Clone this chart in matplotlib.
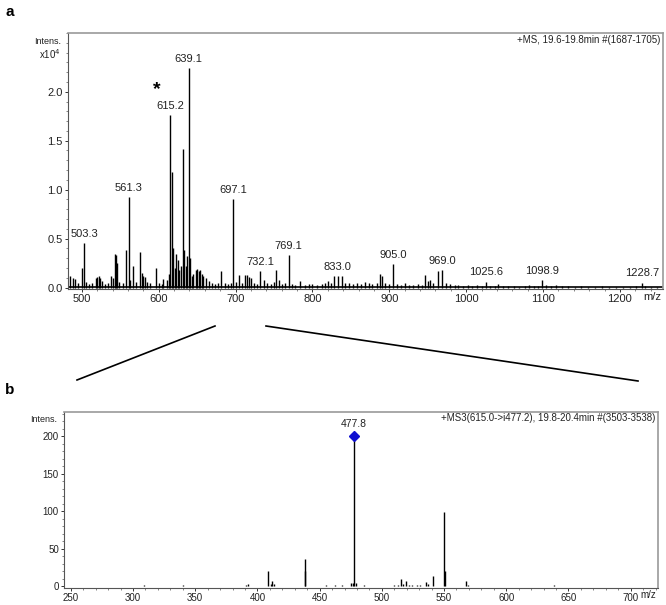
import numpy as np
import matplotlib
matplotlib.use("Agg")
import matplotlib.pyplot as plt
from matplotlib.ticker import MultipleLocator
from matplotlib.lines import Line2D

plt.rcParams['font.family'] = ['Liberation Sans', 'DejaVu Sans']

# ---- panel a: full MS, intensities in x10^4 ----
a_label_mz = [503.3, 561.3, 615.2, 639.1, 697.1, 732.1, 769.1, 833.0, 905.0, 969.0, 1025.6, 1098.9, 1228.7]
a_label_int = [0.45, 0.92, 1.76, 2.24, 0.90, 0.17, 0.33, 0.12, 0.24, 0.18, 0.06, 0.08, 0.05]
a_label_txt = ["503.3", "561.3", "615.2", "639.1", "697.1", "732.1", "769.1", "833.0",
               "905.0", "969.0", "1025.6", "1098.9", "1228.7"]
a_minor = [(485, 0.12), (488, 0.10), (491, 0.09), (495, 0.05), (500, 0.20), (505, 0.06),
           (509, 0.04), (513, 0.05), (518, 0.10), (520, 0.11), (522, 0.12), (524, 0.10),
           (526, 0.07), (530, 0.04), (534, 0.05), (538, 0.12), (541, 0.10), (543, 0.34),
           (544.5, 0.33), (546, 0.25), (549, 0.06), (553, 0.05), (558, 0.38), (563, 0.08),
           (567, 0.22), (571, 0.06), (575.5, 0.36), (578, 0.15), (580, 0.12), (582, 0.11),
           (585, 0.06), (589, 0.05), (596, 0.20), (601, 0.05), (604, 0.04), (606, 0.09),
           (611, 0.08), (613, 0.14), (617, 1.18), (619, 0.40), (621, 0.20), (623, 0.34),
           (625, 0.28), (627, 0.18), (629, 0.22), (631.1, 1.42), (633, 0.38), (635, 0.22),
           (637, 0.32), (641, 0.30), (643, 0.12), (645, 0.14), (648, 0.18), (650, 0.19),
           (652, 0.17), (654, 0.18), (656, 0.14), (658, 0.12), (661, 0.10), (665, 0.07),
           (669, 0.05), (673, 0.04), (677, 0.05), (681, 0.17), (686, 0.05), (690, 0.04),
           (694, 0.05), (700, 0.06), (704, 0.13), (708, 0.05), (712, 0.13), (714.5, 0.13),
           (718, 0.11), (720, 0.10), (724, 0.05), (728, 0.04), (737, 0.08), (741, 0.05),
           (746, 0.04), (750, 0.06), (753, 0.18), (756, 0.08), (760, 0.04), (764, 0.05),
           (773, 0.04), (778, 0.03), (784, 0.07), (790, 0.03), (795, 0.04), (800, 0.04),
           (806, 0.03), (812, 0.04), (817, 0.05), (820, 0.07), (824, 0.05), (828, 0.12),
           (838, 0.12), (843, 0.05), (848, 0.05), (853, 0.04), (858, 0.05), (863, 0.04),
           (868, 0.06), (873, 0.05), (878, 0.04), (884, 0.05), (888, 0.14), (890, 0.12),
           (895, 0.05), (900, 0.04), (910, 0.04), (915, 0.03), (920, 0.05), (926, 0.03),
           (931, 0.03), (937, 0.04), (942, 0.03), (946, 0.13), (950, 0.07), (953, 0.08),
           (957, 0.05), (963, 0.17), (974, 0.05), (979, 0.04), (985, 0.03), (990, 0.03),
           (996, 0.02), (1002, 0.03), (1008, 0.02), (1014, 0.03), (1020, 0.02), (1031, 0.02),
           (1037, 0.02), (1041, 0.04), (1048, 0.02), (1055, 0.02), (1062, 0.02), (1069, 0.01),
           (1076, 0.02), (1082, 0.03), (1088, 0.02), (1094, 0.02), (1104, 0.03), (1110, 0.02),
           (1117, 0.03), (1125, 0.02), (1133, 0.02), (1141, 0.01), (1150, 0.02), (1159, 0.01),
           (1168, 0.01), (1177, 0.02), (1186, 0.01), (1195, 0.01), (1204, 0.01), (1213, 0.01),
           (1221, 0.02), (1233, 0.02), (1240, 0.01), (1248, 0.01)]
a_xticks = [500, 600, 700, 800, 900, 1000, 1100, 1200]
a_yticks = [0.0, 0.5, 1.0, 1.5, 2.0]
a_title = "+MS, 19.6-19.8min #(1687-1705)"

# ---- panel b: MS3 of 615 -> 477 ----
b_prec_mz = 477.8
b_prec_int = 200
b_minor = [(309, 1.5), (340, 2.5), (383, 0.8), (386, 0.8), (391, 2), (392.5, 3),
           (408.8, 20), (410.5, 3), (411.8, 7), (413, 3), (437.9, 37), (438.5, 20),
           (449, 1), (455, 1.5), (462, 2), (468, 1.5), (475.5, 4), (476.8, 5), (479, 4),
           (486, 2), (492, 1), (497, 0.8), (507, 1), (510, 1.5), (513, 2), (515.5, 10),
           (517, 3), (519.5, 7), (522, 2), (524, 1.5), (528, 1.5), (531, 2), (535.5, 6),
           (537, 3), (540.8, 14), (549.9, 99), (551, 20), (559, 1), (567.8, 7), (569, 2),
           (586, 1), (600, 1), (618, 1), (625, 0.8), (638.5, 2.5), (640, 1), (660, 0.8),
           (675, 0.8)]
b_xticks = [250, 300, 350, 400, 450, 500, 550, 600, 650, 700]
b_yticks = [0, 50, 100, 150, 200]
b_title = "+MS3(615.0->i477.2), 19.8-20.4min #(3503-3538)"


def style_axes(ax, size):
    for s in ['top', 'right']:
        ax.spines[s].set_color('#9a9a9a')
        ax.spines[s].set_linewidth(1.2)
    for s in ['left', 'bottom']:
        ax.spines[s].set_color('#555555')
        ax.spines[s].set_linewidth(0.8)
    ax.tick_params(which='major', direction='out', length=2.5, width=0.7,
                   labelsize=size, colors='#333333', labelcolor='#222222', pad=1.2)
    ax.tick_params(which='minor', direction='out', length=1.3, width=0.5, colors='#555555')


fig = plt.figure(figsize=(6.66, 6.05), dpi=100)

# panel a
ax1 = fig.add_axes([0.102, 0.5223, 0.8934, 0.4232])
mz = [p[0] for p in a_minor] + a_label_mz
it = [p[1] for p in a_minor] + a_label_int
ax1.vlines(mz, 0, it, color='black', linewidth=1.0)
ax1.axhline(0.008, color='black', linewidth=1.2)
for m, h, t in zip(a_label_mz, a_label_int, a_label_txt):
    ax1.annotate(t, (m, h), xytext=(0, 3), textcoords='offset points',
                 ha='center', va='bottom', fontsize=8, color='#222222')
ax1.set_xlim(482, 1256)
ax1.set_ylim(-0.015, 2.6)
ax1.set_xticks(a_xticks)
ax1.set_yticks(a_yticks)
ax1.set_yticklabels([f"{v:.1f}" for v in a_yticks])
ax1.xaxis.set_minor_locator(MultipleLocator(20))
ax1.yaxis.set_minor_locator(MultipleLocator(0.1))
style_axes(ax1, 8)
ax1.text(0.995, 0.992, a_title, transform=ax1.transAxes, ha='right', va='top',
         fontsize=7, color='#222222')
ax1.text(-0.012, 0.985, "Intens.", transform=ax1.transAxes, ha='right', va='top',
         fontsize=6.5, color='#222222')
ax1.text(-0.012, 0.945, "x10$^4$", transform=ax1.transAxes, ha='right', va='top',
         fontsize=7, color='#222222')
ax1.text(0.997, -0.012, "m/z", transform=ax1.transAxes, ha='right', va='top',
         fontsize=8, color='#222222')
ax1.text(598, 2.02, "*", ha='center', va='center', fontsize=14, fontweight='bold')

# panel b
ax2 = fig.add_axes([0.0961, 0.0281, 0.8919, 0.2909])
mz2 = [p[0] for p in b_minor] + [b_prec_mz]
it2 = [p[1] for p in b_minor] + [b_prec_int]
ax2.vlines(mz2, 0, it2, color='black', linewidth=1.0)
ax2.plot([b_prec_mz], [b_prec_int], marker='D', markersize=5, color='#1010d0',
         linestyle='none')
ax2.annotate(f"{b_prec_mz:.1f}", (b_prec_mz, b_prec_int), xytext=(0, 5),
             textcoords='offset points', ha='center', va='bottom', fontsize=7.5,
             color='#222222')
ax2.set_xlim(244.5, 722)
ax2.set_ylim(-2, 232)
ax2.set_xticks(b_xticks)
ax2.set_yticks(b_yticks)
ax2.xaxis.set_minor_locator(MultipleLocator(10))
ax2.yaxis.set_minor_locator(MultipleLocator(10))
style_axes(ax2, 7)
ax2.text(0.995, 0.993, b_title, transform=ax2.transAxes, ha='right', va='top',
         fontsize=7, color='#222222')
ax2.text(-0.012, 0.985, "Intens.", transform=ax2.transAxes, ha='right', va='top',
         fontsize=6.5, color='#222222')
ax2.text(0.997, -0.012, "m/z", transform=ax2.transAxes, ha='right', va='top',
         fontsize=7, color='#222222')

# panel letters
fig.text(0.008, 0.992, "a", fontsize=11, fontweight='bold', ha='left', va='top')
fig.text(0.008, 0.367, "b", fontsize=11, fontweight='bold', ha='left', va='top')

# zoom connector lines
W, H = 666.0, 605.0
fig.add_artist(Line2D([77 / W, 215 / W], [1 - 380 / H, 1 - 326 / H],
                      transform=fig.transFigure, color='black', linewidth=1.2))
fig.add_artist(Line2D([266 / W, 638 / W], [1 - 326 / H, 1 - 381 / H],
                      transform=fig.transFigure, color='black', linewidth=1.2))

fig.savefig("out.png", dpi=100)
